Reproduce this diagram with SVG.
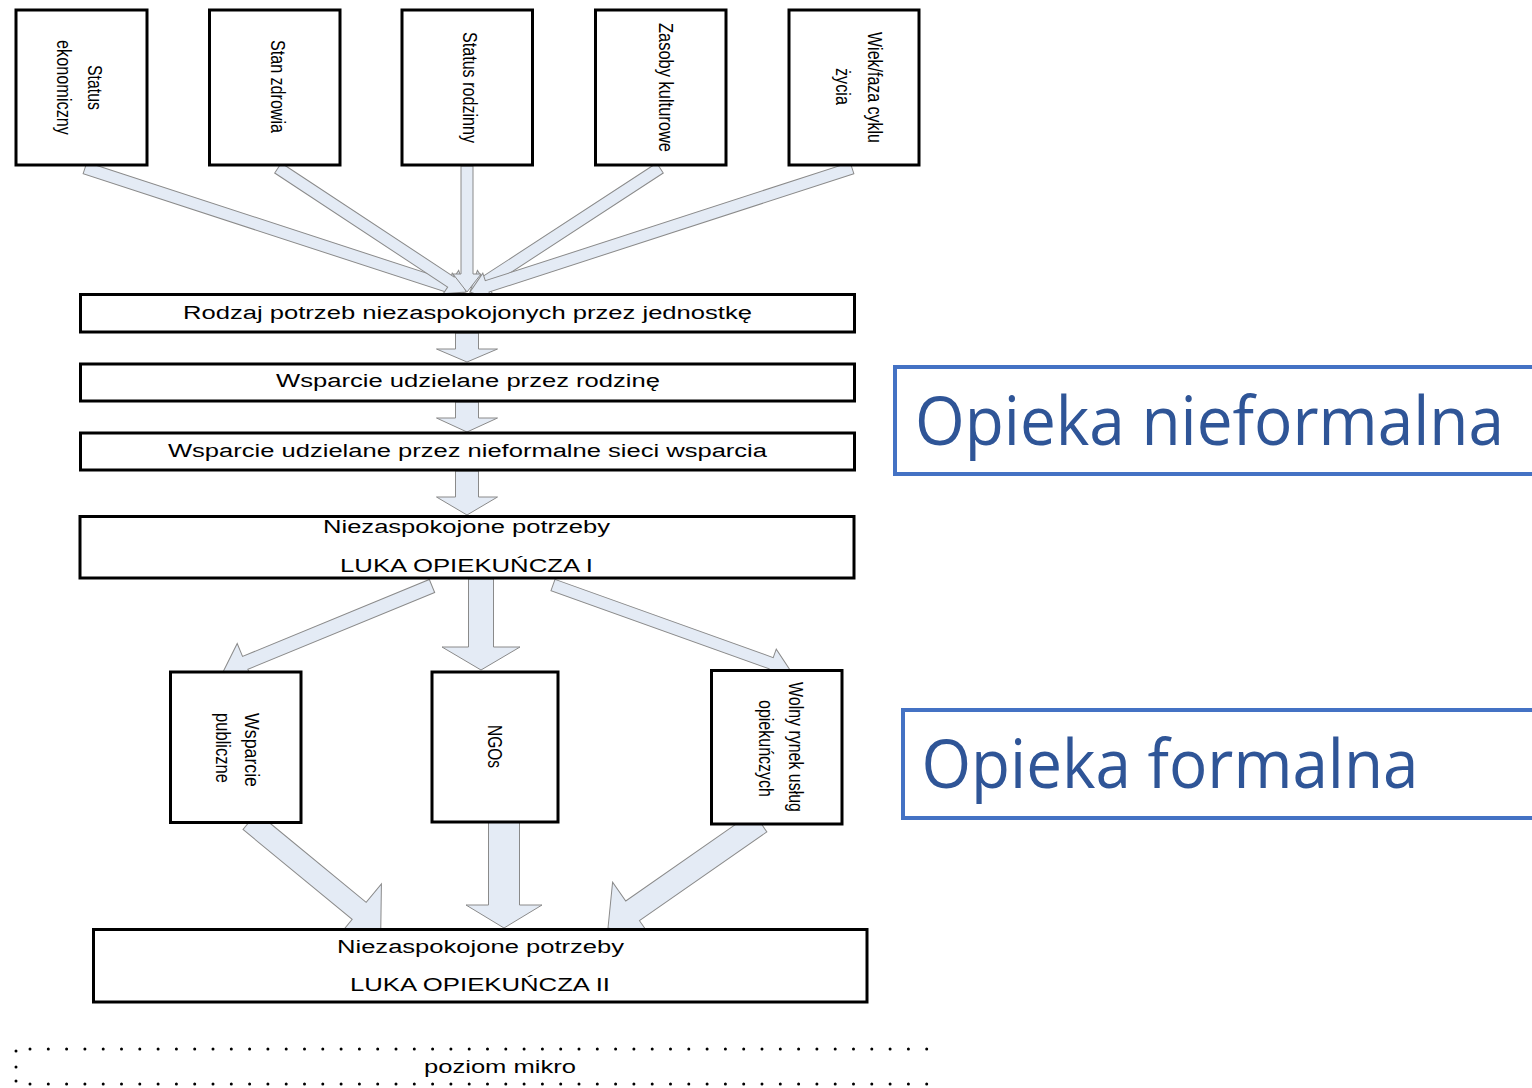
<svg xmlns="http://www.w3.org/2000/svg" width="1532" height="1088" viewBox="0 0 1532 1088">
<style>
.box{fill:#fff;stroke:#000;stroke-width:3}
.arr{fill:#E4EBF5;stroke:#8a8a8a;stroke-width:1;stroke-linejoin:miter}
.t{font-family:"Liberation Sans",Arial,sans-serif;font-size:18px;fill:#000;text-anchor:middle}
.r{font-family:"Liberation Sans",Arial,sans-serif;font-size:21px;fill:#000;text-anchor:middle}
.blue{fill:none;stroke:#4472C4;stroke-width:4}
.bt{font-family:"Open Sans","Noto Sans",sans-serif;font-size:63px;fill:#2F5597}
.dots{stroke:#000;stroke-width:3;stroke-linecap:round;stroke-dasharray:0 18.3;fill:none}
</style>
<rect width="1532" height="1088" fill="#fff"/>
<g id="connectors">
<polygon class="arr" transform="translate(85,168) rotate(18.07)" points="0,-6 381.7,-6 381.7,-14 399.7,0 381.7,14 381.7,6 0,6"/>
<polygon class="arr" transform="translate(278,168) rotate(33.41)" points="0,-6 207.2,-6 207.2,-14 225.2,0 207.2,14 207.2,6 0,6"/>
<polygon class="arr" transform="translate(660,168) rotate(146.87)" points="0,-6 208.9,-6 208.9,-14 226.9,0 208.9,14 208.9,6 0,6"/>
<polygon class="arr" transform="translate(852,168) rotate(162.02)" points="0,-6 383.6,-6 383.6,-14 401.6,0 383.6,14 383.6,6 0,6"/>
<polygon class="arr" transform="translate(467,166) rotate(90)" points="0,-6 108,-6 108,-14 126,0 108,14 108,6 0,6"/>
<polygon class="arr" transform="translate(467,333) rotate(90)" points="0,-11.5 16,-11.5 16,-30.5 29,0 16,30.5 16,11.5 0,11.5"/>
<polygon class="arr" transform="translate(467,402) rotate(90)" points="0,-11.5 16,-11.5 16,-30.5 30,0 16,30.5 16,11.5 0,11.5"/>
<polygon class="arr" transform="translate(467,471) rotate(90)" points="0,-11.5 26,-11.5 26,-30.5 44,0 26,30.5 26,11.5 0,11.5"/>
<polygon class="arr" transform="translate(432,586) rotate(157.63)" points="0,-7 202,-7 202,-21 226,0 202,21 202,7 0,7"/>
<polygon class="arr" transform="translate(481,579) rotate(90)" points="0,-12.5 68,-12.5 68,-39 91,0 68,39 68,12.5 0,12.5"/>
<polygon class="arr" transform="translate(553,585) rotate(19.73)" points="0,-6 231.8,-6 231.8,-15 251.8,0 231.8,15 231.8,6 0,6"/>
<polygon class="arr" transform="translate(250,821) rotate(39.46)" points="0,-11 141.4,-11 141.4,-35 169.4,0 141.4,35 141.4,11 0,11"/>
<polygon class="arr" transform="translate(504,822) rotate(90)" points="0,-15.5 83,-15.5 83,-38 106,0 83,38 83,15.5 0,15.5"/>
<polygon class="arr" transform="translate(760,822) rotate(145.11)" points="0,-12 155.3,-12 155.3,-35 185.3,0 155.3,35 155.3,12 0,12"/>
</g>
<g id="n-status-ekonomiczny">
<rect class="box" x="16" y="10" width="131" height="155"/>
<text class="r" transform="translate(88,87.5) rotate(90)" textLength="45" lengthAdjust="spacingAndGlyphs">Status</text>
<text class="r" transform="translate(57,87.5) rotate(90)" textLength="95" lengthAdjust="spacingAndGlyphs">ekonomiczny</text>
</g>
<g id="n-stan-zdrowia">
<rect class="box" x="209.5" y="10" width="130.5" height="155"/>
<text class="r" transform="translate(271,86.5) rotate(90)" textLength="93" lengthAdjust="spacingAndGlyphs">Stan zdrowia</text>
</g>
<g id="n-status-rodzinny">
<rect class="box" x="402" y="10" width="130.5" height="155"/>
<text class="r" transform="translate(462.5,87.5) rotate(90)" textLength="111" lengthAdjust="spacingAndGlyphs">Status rodzinny</text>
</g>
<g id="n-zasoby-kulturowe">
<rect class="box" x="595.5" y="10" width="130.5" height="155"/>
<text class="r" transform="translate(659,87.5) rotate(90)" textLength="129" lengthAdjust="spacingAndGlyphs">Zasoby kulturowe</text>
</g>
<g id="n-wiek">
<rect class="box" x="789" y="10" width="130" height="155"/>
<text class="r" transform="translate(868,87.5) rotate(90)" textLength="111" lengthAdjust="spacingAndGlyphs">Wiek/faza cyklu</text>
<text class="r" transform="translate(836,86.5) rotate(90)" textLength="37" lengthAdjust="spacingAndGlyphs">życia</text>
</g>
<g id="n-rodzaj">
<rect class="box" x="80.5" y="294.5" width="774" height="37.5"/>
<text class="t" x="467.5" y="319" textLength="569" lengthAdjust="spacingAndGlyphs">Rodzaj potrzeb niezaspokojonych przez jednostkę</text>
</g>
<g id="n-rodzina">
<rect class="box" x="80.5" y="364" width="774" height="37"/>
<text class="t" x="468" y="387" textLength="384" lengthAdjust="spacingAndGlyphs">Wsparcie udzielane przez rodzinę</text>
</g>
<g id="n-nieformalne">
<rect class="box" x="80.5" y="433" width="774" height="37"/>
<text class="t" x="467.5" y="457" textLength="599" lengthAdjust="spacingAndGlyphs">Wsparcie udzielane przez nieformalne sieci wsparcia</text>
</g>
<g id="n-luka1">
<rect class="box" x="80" y="516.5" width="774" height="61.5"/>
<text class="t" x="466.5" y="533" textLength="287" lengthAdjust="spacingAndGlyphs">Niezaspokojone potrzeby</text>
<text class="t" x="466.5" y="572" textLength="253" lengthAdjust="spacingAndGlyphs">LUKA OPIEKUŃCZA I</text>
</g>
<g id="n-wsparcie-publiczne">
<rect class="box" x="170.5" y="672" width="130.5" height="150.5"/>
<text class="r" transform="translate(245,750) rotate(90)" textLength="74" lengthAdjust="spacingAndGlyphs">Wsparcie</text>
<text class="r" transform="translate(216,748) rotate(90)" textLength="70" lengthAdjust="spacingAndGlyphs">publiczne</text>
</g>
<g id="n-ngos">
<rect class="box" x="432" y="672" width="126" height="150"/>
<text class="r" transform="translate(487.5,746.5) rotate(90)" textLength="43" lengthAdjust="spacingAndGlyphs">NGOs</text>
</g>
<g id="n-wolny-rynek">
<rect class="box" x="711.5" y="670.5" width="130.5" height="153.5"/>
<text class="r" transform="translate(789,747) rotate(90)" textLength="130" lengthAdjust="spacingAndGlyphs">Wolny rynek usług</text>
<text class="r" transform="translate(759,748.5) rotate(90)" textLength="97" lengthAdjust="spacingAndGlyphs">opiekuńczych</text>
</g>
<g id="n-luka2">
<rect class="box" x="93.5" y="929.5" width="773.5" height="72.5"/>
<text class="t" x="480.5" y="953" textLength="287" lengthAdjust="spacingAndGlyphs">Niezaspokojone potrzeby</text>
<text class="t" x="480" y="991" textLength="260" lengthAdjust="spacingAndGlyphs">LUKA OPIEKUŃCZA II</text>
</g>
<g id="n-poziom-mikro">
<line class="dots" x1="30" y1="1049" x2="935" y2="1049"/>
<line class="dots" x1="30" y1="1084" x2="935" y2="1084"/>
<circle cx="16" cy="1051" r="1.5" fill="#000"/>
<circle cx="16" cy="1067" r="1.5" fill="#000"/>
<circle cx="16" cy="1081" r="1.5" fill="#000"/>
<text class="t" x="500" y="1073" textLength="152" lengthAdjust="spacingAndGlyphs">poziom mikro</text>
</g>
<g id="n-opieka-nieformalna">
<path class="blue" d="M1532,367 H895 V474 H1532"/>
<text class="bt" transform="translate(915,445) scale(1,1.08)" textLength="589" lengthAdjust="spacingAndGlyphs">Opieka nieformalna</text>
</g>
<g id="n-opieka-formalna">
<path class="blue" d="M1532,710 H903 V818 H1532"/>
<text class="bt" transform="translate(921.5,788) scale(1,1.08)" textLength="497" lengthAdjust="spacingAndGlyphs">Opieka formalna</text>
</g>
</svg>
